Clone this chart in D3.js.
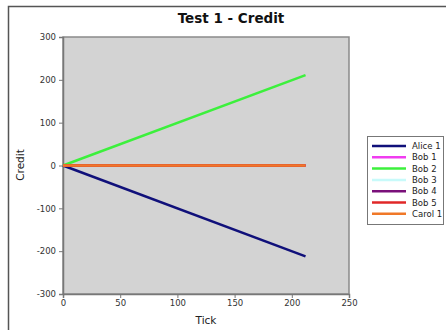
<!DOCTYPE html>
<html>
<head>
<meta charset="utf-8">
<script src="https://cdn.jsdelivr.net/npm/d3@7"></script>
<style>
  html, body { margin: 0; padding: 0; background: #fff; }
  svg { display: block; font-family: "DejaVu Sans", sans-serif; }
</style>
</head>
<body>
<svg id="chart" width="446" height="330"></svg>
<script>
// Simulation ticks and per-agent credit at each tick
const ticks = [0, 212];
const seriesNames = ["Alice 1", "Bob 1", "Bob 2", "Bob 3", "Bob 4", "Bob 5", "Carol 1"];
const alice1 = [0, -212];
const bob1 = [0, 0];
const bob2 = [0, 211];
const bob3 = [0, 0];
const bob4 = [0, 0];
const bob5 = [0, 0];
const carol1 = [0, 0];
const seriesColors = ["#10107a", "#f03cf0", "#3cf03c", "#c8fafa", "#7a107a", "#e02828", "#f07828"];
const xTicks = [0, 50, 100, 150, 200, 250];
const yTicks = [-300, -200, -100, 0, 100, 200, 300];

const seriesValues = [alice1, bob1, bob2, bob3, bob4, bob5, carol1];

const svg = d3.select("#chart");
const m = { left: 63, right: 349, top: 37, bottom: 294 };

// Frame around the figure
svg.append("path")
  .attr("d", "M8.5,330 V6.5 H446")
  .attr("fill", "none").attr("stroke", "#555").attr("stroke-width", 1.5);

const x = d3.scaleLinear().domain([0, 250]).range([m.left, m.right]);
const y = d3.scaleLinear().domain([-300, 300]).range([m.bottom, m.top]);

// Plot background
svg.append("rect")
  .attr("x", m.left).attr("y", m.top)
  .attr("width", m.right - m.left).attr("height", m.bottom - m.top)
  .attr("fill", "#d3d3d3").attr("stroke", "#8a8a8a").attr("stroke-width", 1.5);

// Axes (plain hyphen for negative labels)
const fmt = d => String(d);
const xAxis = svg.append("g").attr("transform", `translate(0,${m.bottom})`)
  .call(d3.axisBottom(x).tickValues(xTicks).tickFormat(fmt).tickSize(4).tickPadding(2));
const yAxis = svg.append("g").attr("transform", `translate(${m.left},0)`)
  .call(d3.axisLeft(y).tickValues(yTicks).tickFormat(fmt).tickSize(4).tickPadding(3));
[xAxis, yAxis].forEach(g => {
  g.select(".domain").attr("stroke", "#777").attr("stroke-width", 1.5);
  g.selectAll(".tick line").attr("stroke", "#777");
  g.selectAll(".tick text").attr("fill", "#333").style("font-size", "8.5px")
    .style("font-family", "DejaVu Sans, sans-serif");
});

// Series lines
const line = d3.line().x((d, i) => x(ticks[i])).y(d => y(d));
seriesValues.forEach((vals, i) => {
  svg.append("path")
    .datum(vals)
    .attr("d", line)
    .attr("fill", "none")
    .attr("stroke", seriesColors[i])
    .attr("stroke-width", 2.5);
});

// Title and axis labels
svg.append("text").attr("x", 231).attr("y", 23).attr("text-anchor", "middle")
  .style("font-size", "13.5px").style("font-weight", "bold").attr("fill", "#111")
  .text("Test 1 - Credit");
svg.append("text").attr("x", 206).attr("y", 324).attr("text-anchor", "middle")
  .style("font-size", "10.5px").attr("fill", "#222").text("Tick");
svg.append("text").attr("transform", "translate(24,165) rotate(-90)")
  .attr("text-anchor", "middle").style("font-size", "10.5px").attr("fill", "#222")
  .text("Credit");

// Legend
const lg = svg.append("g").attr("transform", "translate(367,136)");
lg.append("rect").attr("x", 0.5).attr("y", 0.5).attr("width", 76).attr("height", 88)
  .attr("fill", "#fff").attr("stroke", "#777");
seriesNames.forEach((name, i) => {
  const yy = 10 + i * 11.3;
  lg.append("line").attr("x1", 5).attr("x2", 39).attr("y1", yy).attr("y2", yy)
    .attr("stroke", seriesColors[i]).attr("stroke-width", 2.5);
  lg.append("text").attr("x", 45).attr("y", yy + 3).style("font-size", "8.5px")
    .attr("fill", "#222").text(name);
});
</script>
</body>
</html>
